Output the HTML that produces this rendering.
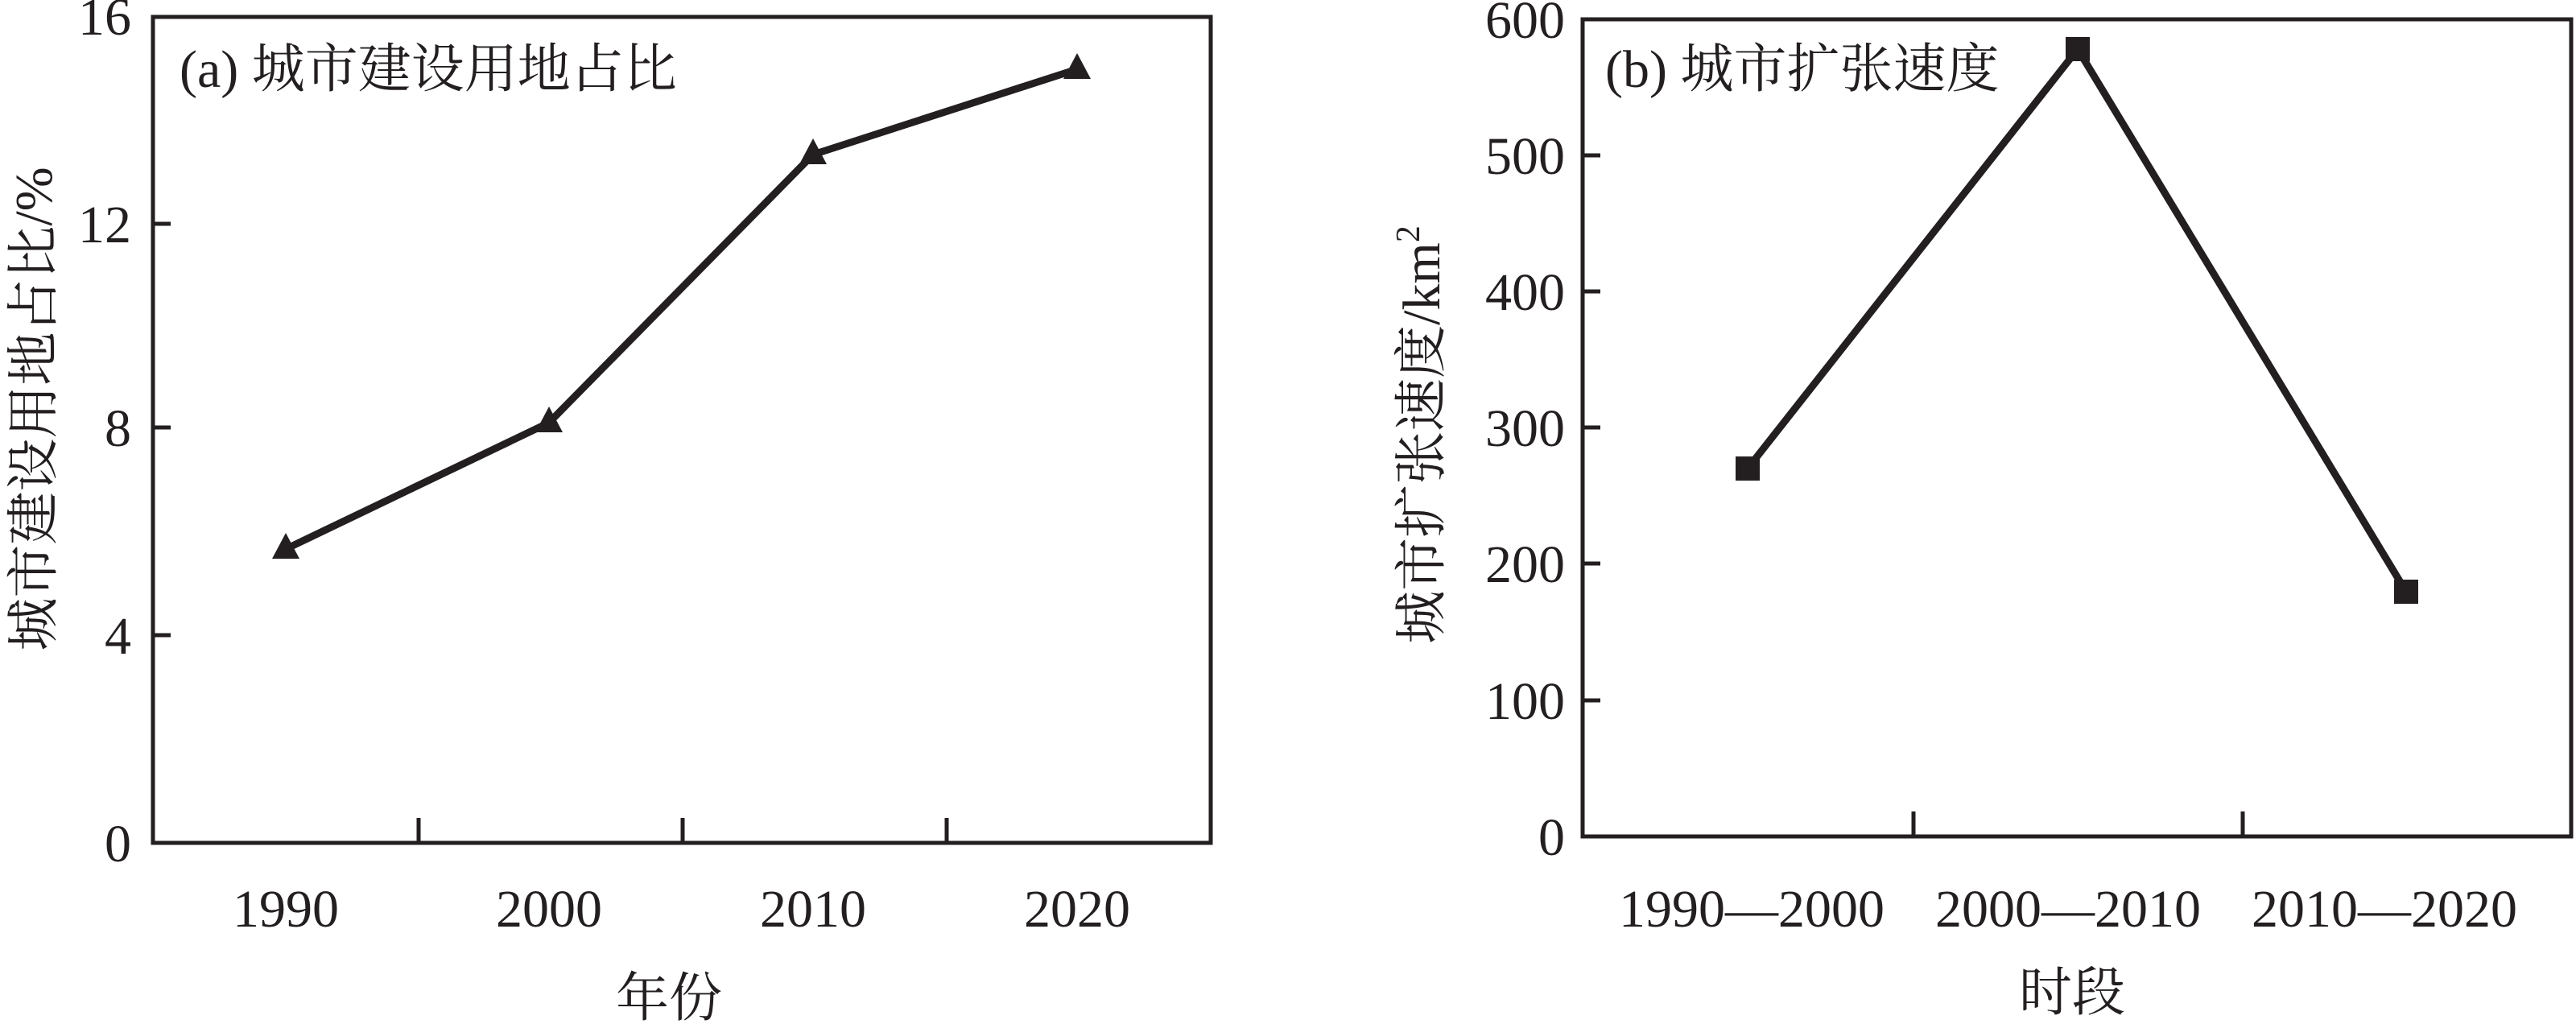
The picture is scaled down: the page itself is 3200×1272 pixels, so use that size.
<!DOCTYPE html>
<html><head><meta charset="utf-8"><style>
html,body{margin:0;padding:0;background:#fff;}
svg{display:block;}
text{font-family:"Liberation Serif","Noto Serif CJK SC","Noto Sans CJK SC",serif;fill:#231f20;}
</style></head><body>
<svg width="3200" height="1272" viewBox="0 0 3200 1272" xmlns="http://www.w3.org/2000/svg">
<g stroke="#231f20" fill="none" stroke-width="5">
  <rect x="190" y="21" width="1314" height="1026"/>
  <line x1="190" y1="789" x2="212" y2="789"/>
  <line x1="190" y1="531" x2="212" y2="531"/>
  <line x1="190" y1="278" x2="212" y2="278"/>
  <line x1="520" y1="1047" x2="520" y2="1016"/>
  <line x1="848" y1="1047" x2="848" y2="1016"/>
  <line x1="1176" y1="1047" x2="1176" y2="1016"/>
  <polyline stroke-width="9" stroke-linejoin="miter" points="355,682 682,525 1010,192 1338,86"/>
</g>
<g fill="#231f20">
  <polygon points="355,662 338,694 372,694"/>
  <polygon points="682,505 665,537 699,537"/>
  <polygon points="1010,172 993,204 1027,204"/>
  <polygon points="1338,66 1321,98 1355,98"/>
</g>
<g font-size="66" text-anchor="end">
  <text x="163" y="1070">0</text>
  <text x="163" y="812">4</text>
  <text x="163" y="554">8</text>
  <text x="163" y="301">12</text>
  <text x="163" y="43">16</text>
</g>
<g font-size="66" text-anchor="middle">
  <text x="355" y="1151">1990</text>
  <text x="682" y="1151">2000</text>
  <text x="1010" y="1151">2010</text>
  <text x="1338" y="1151">2020</text>
  <text x="831" y="1262">年份</text>
  <text transform="translate(64,508) rotate(-90)">城市建设用地占比/%</text>
</g>
<text x="223" y="108" font-size="66">(a) 城市建设用地占比</text>

<g stroke="#231f20" fill="none" stroke-width="5">
  <rect x="1966" y="24" width="1228" height="1015"/>
  <line x1="1966" y1="870" x2="1988" y2="870"/>
  <line x1="1966" y1="700" x2="1988" y2="700"/>
  <line x1="1966" y1="531" x2="1988" y2="531"/>
  <line x1="1966" y1="362" x2="1988" y2="362"/>
  <line x1="1966" y1="193" x2="1988" y2="193"/>
  <line x1="2377" y1="1039" x2="2377" y2="1008"/>
  <line x1="2786" y1="1039" x2="2786" y2="1008"/>
  <polyline stroke-width="9" points="2171,582 2581,61 2989,735"/>
</g>
<g fill="#231f20">
  <rect x="2156" y="567" width="30" height="30"/>
  <rect x="2566" y="46" width="30" height="30"/>
  <rect x="2974" y="720" width="30" height="30"/>
</g>
<g font-size="66" text-anchor="end">
  <text x="1944" y="1062">0</text>
  <text x="1944" y="893">100</text>
  <text x="1944" y="723">200</text>
  <text x="1944" y="554">300</text>
  <text x="1944" y="385">400</text>
  <text x="1944" y="216">500</text>
  <text x="1944" y="47">600</text>
</g>
<g font-size="66" text-anchor="middle">
  <text x="2176" y="1151">1990—2000</text>
  <text x="2569" y="1151">2000—2010</text>
  <text x="2962" y="1151">2010—2020</text>
  <text x="2574" y="1255">时段</text>
  <text transform="translate(1788,540) rotate(-90)">城市扩张速度/km<tspan font-size="42" dy="-25">2</tspan></text>
</g>
<text x="1994" y="108" font-size="66">(b) 城市扩张速度</text>
</svg>
</body></html>
